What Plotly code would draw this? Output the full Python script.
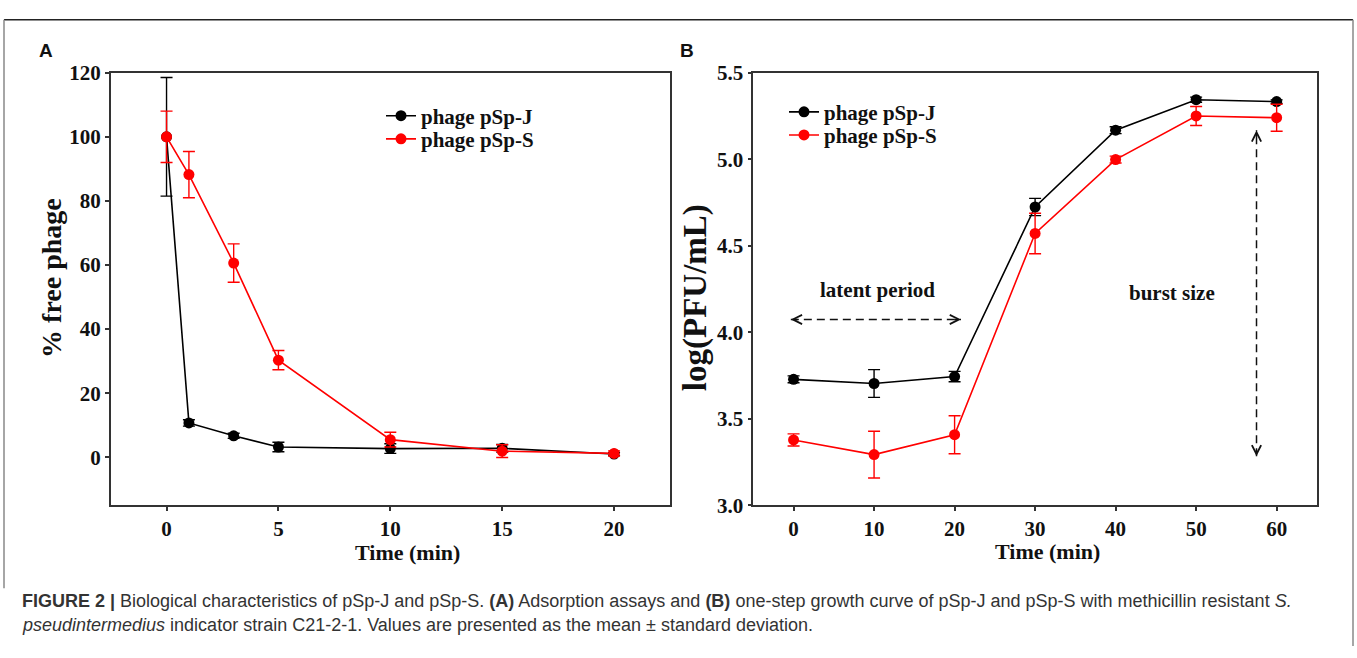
import plotly.graph_objects as go

# ---------------- data ----------------
time_a = [0, 1, 3, 5, 10, 15, 20]
j_a = [100, 10.7, 6.7, 3.2, 2.7, 2.8, 1.0]
j_a_err = [18.5, 1.0, 0.8, 1.5, 1.5, 1.2, 0.5]
s_a = [100, 88.2, 60.6, 30.3, 5.5, 1.9, 1.2]
s_a_err = [8.0, 7.2, 6.0, 3.0, 2.3, 2.0, 0.8]

time_b = [0, 10, 20, 30, 40, 50, 60]
j_b = [3.728, 3.704, 3.744, 4.724, 5.168, 5.344, 5.333]
j_b_err = [0.02, 0.08, 0.03, 0.05, 0.02, 0.015, 0.01]
s_b = [3.378, 3.293, 3.408, 4.571, 4.998, 5.25, 5.240]
s_b_err = [0.035, 0.135, 0.11, 0.117, 0.02, 0.055, 0.078]

series_names = ["phage pSp-J", "phage pSp-S"]
ticks_a_x = [0, 5, 10, 15, 20]
ticks_a_y = [0, 20, 40, 60, 80, 100, 120]
ticks_b_x = [0, 10, 20, 30, 40, 50, 60]
ticks_b_y = [3.0, 3.5, 4.0, 4.5, 5.0, 5.5]

W, H = 1357, 658
def px(x):
    return x / W
def py(y):
    return 1 - y / H

SERIF = "Liberation Serif, Times New Roman, serif"
SANS = "Liberation Sans, Arial, sans-serif"
BLACK = "#000000"
RED = "#FF0000"
TXT = "#111111"

fig = go.Figure()

def add_series(x, y, err, name, color, xa, ya, legend):
    fig.add_trace(go.Scatter(
        x=x, y=y, name=name, mode="lines+markers",
        xaxis=xa, yaxis=ya, legend=legend,
        line=dict(color=color, width=1.6),
        marker=dict(color=color, size=11, line=dict(width=0)),
        error_y=dict(type="data", array=err, visible=True, color=color,
                     thickness=1.4, width=6),
    ))

add_series(time_a, j_a, j_a_err, series_names[0], BLACK, "x", "y", "legend")
add_series(time_a, s_a, s_a_err, series_names[1], RED, "x", "y", "legend2")
add_series(time_b, j_b, j_b_err, series_names[0], BLACK, "x2", "y2", "legend3")
add_series(time_b, s_b, s_b_err, series_names[1], RED, "x2", "y2", "legend4")

axis_common = dict(showline=True, linecolor="#333333", linewidth=1.5, mirror=True,
                   ticks="outside", ticklen=4, tickwidth=1.5, tickcolor="#333333",
                   showgrid=False, zeroline=False,
                   tickfont=dict(family=SERIF, size=21, color=TXT, weight="bold"))

def legend_at(x, y):
    return dict(x=px(x), y=py(y), xanchor="left", yanchor="middle",
                bgcolor="rgba(0,0,0,0)", borderwidth=0,
                font=dict(family=SERIF, size=21, color=TXT, weight="bold"))

ydom = [py(512), py(63)]
fig.update_layout(
    width=W, height=H, margin=dict(l=0, r=0, t=0, b=0),
    paper_bgcolor="white", plot_bgcolor="white", showlegend=True,
    xaxis=dict(domain=[px(110.6), px(670)], range=[-2.5, 22.5], tickvals=ticks_a_x,
               anchor="y", **axis_common),
    yaxis=dict(domain=ydom, range=[-15, 120], tickvals=ticks_a_y, anchor="x", **axis_common),
    xaxis2=dict(domain=[px(753.3), px(1316.9)], range=[-5, 65], tickvals=ticks_b_x,
                anchor="y2", **axis_common),
    yaxis2=dict(domain=ydom, range=[3.0, 5.5], tickvals=ticks_b_y, tickformat=".1f",
                anchor="x2", **axis_common),
    legend=legend_at(381, 108),
    legend2=legend_at(381, 132),
    legend3=legend_at(784, 104),
    legend4=legend_at(784, 128),
)

ann = []
def text_ann(x, y, text, size, family=SERIF, angle=0, bold=True, color=TXT,
             xanchor="center"):
    ann.append(dict(x=px(x), y=py(y), xref="paper", yref="paper", text=text,
                    showarrow=False, textangle=angle, xanchor=xanchor, yanchor="middle",
                    font=dict(family=family, size=size, color=color,
                              weight="bold" if bold else "normal")))

# axis titles
text_ann(52, 276, "% free phage", 28, angle=-90)
text_ann(695, 297, "log(PFU/mL)", 33, angle=-90)
text_ann(407, 561, "Time (min)", 22)
text_ann(1047, 560, "Time (min)", 22)
# panel letters
text_ann(46, 40, "A", 19, family=SANS)
text_ann(687, 40, "B", 19, family=SANS)
# panel B labels
text_ann(877, 289, "latent period", 21)
text_ann(1172, 292, "burst size", 21)

# caption
text_ann(20, 611, "<b>FIGURE 2 |</b> Biological characteristics of pSp-J and pSp-S. <b>(A)</b> "
         "Adsorption assays and <b>(B)</b> one-step growth curve of pSp-J and pSp-S with "
         "methicillin resistant <i>S.</i>", 18, family=SANS, bold=False, color="#333333",
         xanchor="left")
text_ann(20, 636, "<i>pseudintermedius</i> indicator strain C21-2-1. Values are presented "
         "as the mean ± standard deviation.", 18, family=SANS, bold=False, color="#333333",
         xanchor="left")

# arrowheads for the dashed annotation arrows (panel B)
def head(x, y, ax, ay):
    ann.append(dict(x=x, y=y, xref="x2", yref="y2", ax=ax, ay=ay, text="",
                    showarrow=True, arrowhead=5, arrowsize=1.3, arrowwidth=1.4,
                    arrowcolor=TXT, standoff=0))

lat_x0, lat_x1, lat_y = -0.34, 20.8, 4.074
bur_x, bur_y0, bur_y1 = 57.5, 3.283, 5.167
head(lat_x1, lat_y, -8, 0)
head(lat_x0, lat_y, 8, 0)
head(bur_x, bur_y1, 0, 8)
head(bur_x, bur_y0, 0, -8)

shapes = [
    dict(type="line", xref="x2", yref="y2", x0=lat_x0, x1=lat_x1, y0=lat_y, y1=lat_y,
         line=dict(color=TXT, width=1.5, dash="8px,5px")),
    dict(type="line", xref="x2", yref="y2", x0=bur_x, x1=bur_x, y0=bur_y0, y1=bur_y1,
         line=dict(color=TXT, width=1.5, dash="8px,5px")),
    # outer frame
    dict(type="line", xref="paper", yref="paper", x0=px(4), x1=px(1353), y0=py(8), y1=py(8),
         line=dict(color="#222222", width=1.5)),
    dict(type="line", xref="paper", yref="paper", x0=px(4), x1=px(4), y0=py(8), y1=py(598),
         line=dict(color="#888888", width=1.5)),
    dict(type="line", xref="paper", yref="paper", x0=px(1353), x1=px(1353), y0=py(8), y1=py(658),
         line=dict(color="#888888", width=1.5)),
]

fig.update_layout(annotations=ann, shapes=shapes)

page_fix = (
    "document.documentElement.style.margin='0px';"
    "document.documentElement.style.overflow='hidden';"
    "document.body.style.margin='0px';"
    "document.body.style.overflow='hidden';"
    "var d=document.getElementById('{plot_id}');"
    "d.style.position='fixed';d.style.left='0px';d.style.top='0px';"
)
fig.write_html("out.html", config={"displayModeBar": False}, post_script=page_fix)
